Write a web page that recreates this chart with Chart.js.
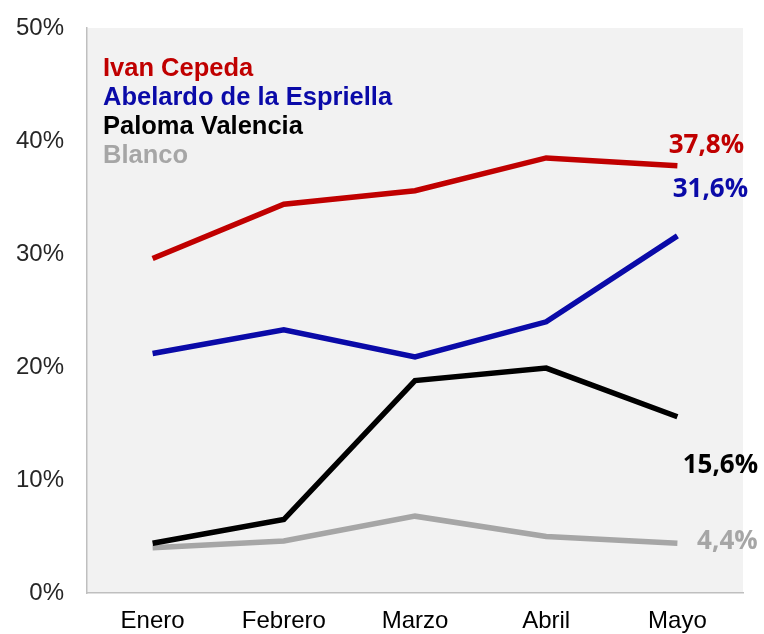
<!DOCTYPE html>
<html>
<head>
<meta charset="utf-8">
<script src="https://cdn.jsdelivr.net/npm/chart.js@4.4.1/dist/chart.umd.min.js"></script>
<style>
  html, body { margin: 0; padding: 0; background: #fff; }
  #wrap { width: 764px; height: 634px; }
</style>
</head>
<body>
<div id="wrap"><canvas id="chart" width="764" height="634"></canvas></div>
<script>
const months = ['Enero', 'Febrero', 'Marzo', 'Abril', 'Mayo']
const yTicks = [0, 10, 20, 30, 40, 50]

const cepeda = [29.6, 34.4, 35.6, 38.5, 37.8]
const espriella = [21.2, 23.3, 20.9, 24.0, 31.6]
const valencia = [4.4, 6.5, 18.8, 19.9, 15.6]
const blanco = [4.0, 4.6, 6.8, 5.0, 4.4]

const names = ['Ivan Cepeda', 'Abelardo de la Espriella', 'Paloma Valencia', 'Blanco']
const colors = ['#c00000', '#0a0aa8', '#000000', '#a6a6a6']

// offsets of the last-value labels from the last point
const endLabelOffsets = [[29, -20], [33, -46], [43, 49], [50, -2]]

const fmt = v => v.toFixed(1).replace('.', ',') + '%'

const plotBg = {
  id: 'plotBg',
  beforeDraw(chart) {
    const { ctx, chartArea: a } = chart
    ctx.save()
    ctx.fillStyle = '#f2f2f2'
    ctx.fillRect(a.left, a.top, a.right - a.left, a.bottom - a.top)
    ctx.restore()
  }
}

const textLegend = {
  id: 'textLegend',
  afterDatasetsDraw(chart) {
    const { ctx, chartArea: a } = chart
    ctx.save()
    ctx.font = 'bold 25.5px "Liberation Sans", Arial, sans-serif'
    ctx.textBaseline = 'middle'
    ctx.textAlign = 'left'
    chart.data.datasets.forEach((ds, i) => {
      ctx.fillStyle = ds.borderColor
      ctx.fillText(ds.label, a.left + 16, a.top + 41 + i * 29)
    })
    ctx.restore()
  }
}

const endLabels = {
  id: 'endLabels',
  afterDatasetsDraw(chart) {
    const { ctx } = chart
    ctx.save()
    ctx.font = 'bold 26px "Open Sans", "Liberation Sans", sans-serif'
    ctx.textBaseline = 'middle'
    ctx.textAlign = 'center'
    chart.data.datasets.forEach((ds, i) => {
      const meta = chart.getDatasetMeta(i)
      const pt = meta.data[meta.data.length - 1]
      const [dx, dy] = endLabelOffsets[i]
      ctx.fillStyle = ds.borderColor
      ctx.fillText(fmt(ds.data[ds.data.length - 1]), pt.x + dx, pt.y + dy)
    })
    ctx.restore()
  }
}

const series = [cepeda, espriella, valencia, blanco]

new Chart(document.getElementById('chart'), {
  type: 'line',
  data: {
    labels: months,
    datasets: series.map((data, i) => ({
      label: names[i],
      data,
      borderColor: colors[i],
      backgroundColor: colors[i],
      borderWidth: 5.5,
      pointRadius: 0,
      tension: 0,
      order: i === 3 ? 4 : i
    }))
  },
  options: {
    responsive: false,
    animation: false,
    layout: { padding: { top: 28, right: 21, left: 0, bottom: 0 } },
    plugins: { legend: { display: false }, tooltip: { enabled: false } },
    scales: {
      x: {
        offset: true,
        grid: { display: false, drawTicks: false },
        border: { display: true, color: '#bfbfbf', width: 1.5 },
        ticks: { color: '#000', padding: 14, font: { family: '"Liberation Sans", Arial, sans-serif', size: 24 } },
        afterFit: s => { s.height = 41; s.paddingLeft = 0; s.paddingRight = 0 }
      },
      y: {
        min: 0,
        max: 50,
        afterBuildTicks: s => { s.ticks = yTicks.map(v => ({ value: v })) },
        grid: { display: false, drawTicks: false },
        border: { display: true, color: '#bfbfbf', width: 1.5 },
        ticks: {
          color: '#262626',
          padding: 23,
          font: { family: '"Liberation Sans", Arial, sans-serif', size: 24 },
          callback: v => v + '%'
        },
        afterFit: s => { s.width = 87; s.paddingTop = 0; s.paddingBottom = 0 }
      }
    }
  },
  plugins: [plotBg, textLegend, endLabels]
})
</script>
</body>
</html>
